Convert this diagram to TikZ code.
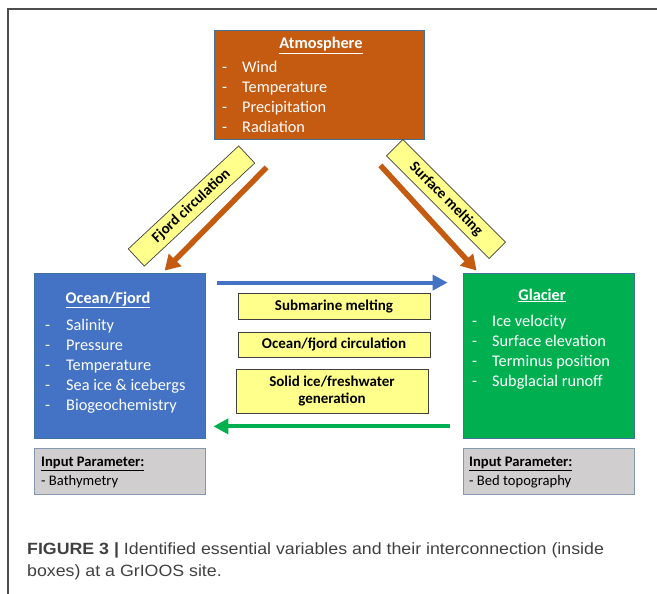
\documentclass[tikz,border=0pt]{standalone}
\usepackage{fontspec}
\setmainfont{Carlito}
\newfontfamily\capfont[FakeStretch=1.09]{Liberation Sans}
\usetikzlibrary{arrows.meta,positioning}

\definecolor{atmocol}{HTML}{C55A11}
\definecolor{oceancol}{HTML}{4472C4}
\definecolor{glaciercol}{HTML}{00B050}
\definecolor{edgecol}{HTML}{41719C}
\definecolor{inputcol}{HTML}{D0CECE}
\definecolor{inputedge}{HTML}{8497B0}
\definecolor{labelcol}{HTML}{FFFF8C}
\definecolor{labeledge}{HTML}{404040}
\definecolor{framecol}{HTML}{4D4D4D}
\definecolor{captioncol}{HTML}{404040}

\begin{document}
\begin{tikzpicture}[x=1pt, y=-1pt,
    mainbox/.style = {draw=edgecol, line width=0.8pt, inner sep=0pt, minimum width=171pt, minimum height=165pt},
    inputbox/.style = {draw=inputedge, fill=inputcol, line width=0.8pt, inner sep=0pt, minimum width=171pt, minimum height=46pt},
    flowlabel/.style = {draw=labeledge, fill=labelcol, line width=0.7pt, inner sep=0pt, align=center,
        font=\fontsize{15}{17}\selectfont\bfseries},
    boxtitle/.style = {anchor=base, text=white, inner sep=0pt, font=\fontsize{16.3}{20}\selectfont\bfseries},
    boxlist/.style = {anchor=base west, text=white, inner sep=0pt, font=\fontsize{16.3}{20}\selectfont},
    inputtext/.style = {anchor=base west, inner sep=0pt, font=\fontsize{14.6}{18.3}\selectfont},
    flowarrow/.style = {line width=4pt, -{Triangle[length=15pt, width=15pt]}},
    meltarrow/.style = {atmocol, line width=5.5pt, -{Triangle[length=15pt, width=17pt]}},
    caption/.style = {anchor=base west, inner sep=0pt, text=captioncol, font=\capfont\fontsize{16.3}{22}\selectfont}
]
\useasboundingbox (0,0) rectangle (657,594);
\draw[framecol, line width=1.3pt] (657,9) -- (8,9) -- (8,594);

% the three compartments
\node[mainbox, fill=atmocol, minimum width=210pt, minimum height=109pt] (atmo) at (319,84.5) {};
\node[mainbox, fill=oceancol] (ocean) at (119.5,355.5) {};
\node[mainbox, fill=glaciercol] (glacier) at (548.5,355.5) {};

\node[boxtitle] (atmotitle) at (321,49) {\underline{Atmosphere}};
\node[boxlist] (atmolist) at (222,72.5) {\begin{tabular}[t]{@{}p{20pt}@{}l@{}}
    - & Wind\\ - & Temperature\\ - & Precipitation\\ - & Radiation
\end{tabular}};
\node[boxtitle] (oceantitle) at (108,303) {\underline{Ocean/Fjord}};
\node[boxlist] (oceanlist) at (45,330.5) {\begin{tabular}[t]{@{}p{21pt}@{}l@{}}
    - & Salinity\\ - & Pressure\\ - & Temperature\\ - & Sea ice \& icebergs\\ - & Biogeochemistry
\end{tabular}};
\node[boxtitle] (glaciertitle) at (542,300) {\underline{Glacier}};
\node[boxlist] (glacierlist) at (472,326.5) {\begin{tabular}[t]{@{}p{20pt}@{}l@{}}
    - & Ice velocity\\ - & Surface elevation\\ - & Terminus position\\ - & Subglacial runoff
\end{tabular}};

% input parameters
\node[inputbox] (oceaninput) [below=10pt of ocean] {};
\node[inputbox] (glacierinput) [below=10pt of glacier] {};
\node[inputtext] (oceaninputtext) at (41,466.7) {\begin{tabular}[t]{@{}l@{}}
    \textbf{\underline{Input Parameter:}}\\ - Bathymetry
\end{tabular}};
\node[inputtext] (glacierinputtext) at (469,466.7) {\begin{tabular}[t]{@{}l@{}}
    \textbf{\underline{Input Parameter:}}\\ - Bed topography
\end{tabular}};

% processes in between
\node[flowlabel, minimum width=192pt, minimum height=26pt] (submarine) at (334,306) {Submarine melting};
\node[flowlabel, minimum width=192pt, minimum height=25pt] (fjordcirc) at (334,344.5) {Ocean/fjord circulation};
\node[flowlabel, minimum width=192pt, minimum height=44pt] (solidice) at (332,391) {Solid ice/freshwater\\generation};
\node[flowlabel, rotate=43, minimum width=151pt, minimum height=23.5pt] (fjordlabel) at (191.5,206) {Fjord circulation};
\node[flowlabel, rotate=-45, minimum width=145pt, minimum height=23pt] (meltlabel) at (446,199) {Surface melting};

% arrows
\draw[meltarrow] ([xshift=53pt,yshift=-28pt]atmo.south west) -- ([xshift=131pt,yshift=2pt]ocean.north west);
\draw[meltarrow] ([xshift=-44pt,yshift=-26pt]atmo.south east) -- ([xshift=14pt,yshift=2pt]glacier.north west);
\draw[flowarrow, oceancol] ([xshift=12pt,yshift=-10pt]ocean.north east) -- ([xshift=-15pt,yshift=-10pt]glacier.north west);
\draw[flowarrow, glaciercol] ([xshift=-13pt,yshift=12pt]glacier.south west) -- ([xshift=8pt,yshift=12pt]ocean.south east);

% caption
\node[caption] (caption1) at (27,554) {\textbf{FIGURE 3 |} Identified essential variables and their interconnection (inside};
\node[caption] (caption2) at (27,576) {boxes) at a GrIOOS site.};
\end{tikzpicture}
\end{document}
